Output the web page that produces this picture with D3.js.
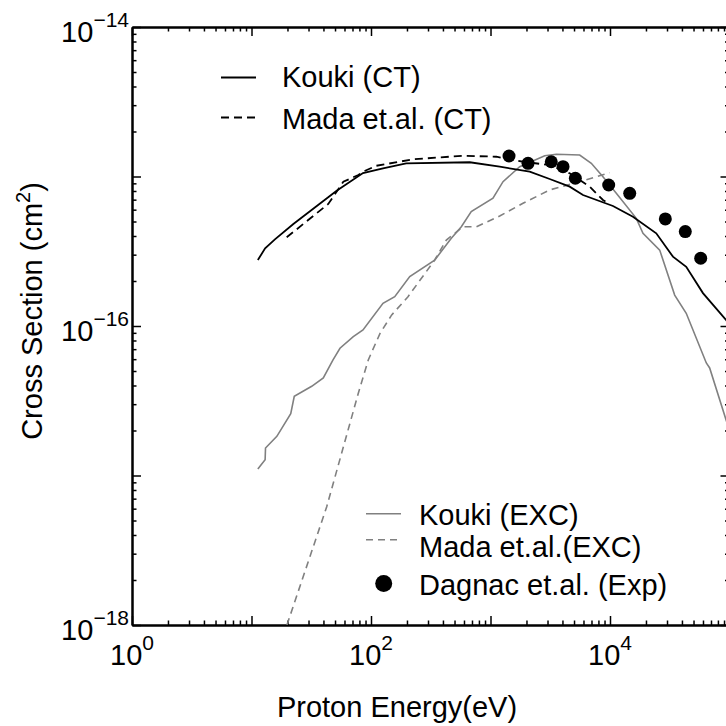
<!DOCTYPE html>
<html>
<head>
<meta charset="utf-8">
<script src="https://cdn.jsdelivr.net/npm/d3@7"></script>
<style>
  html, body { margin: 0; padding: 0; background: #fff; }
  svg { display: block; overflow: hidden; }
  text { font-family: "Liberation Sans", Arial, Helvetica, sans-serif; fill: #000; }
</style>
</head>
<body>
<div id="chart"></div>
<script>
// ---- Data (energy in eV, cross section in cm^2) ----
const koukiCT_E = [11.3, 13.0, 15.7, 22.4, 51.6, 85.7, 126, 197, 670, 1194, 2128, 3127, 4600, 5943, 10590, 15560, 24380, 33630, 43450, 59960, 93500, 100000];
const koukiCT_S = [2.76e-16, 3.31e-16, 3.80e-16, 4.81e-16, 8.03e-16, 1.054e-15, 1.135e-15, 1.225e-15, 1.245e-15, 1.163e-15, 1.077e-15, 9.62e-16, 8.55e-16, 7.52e-16, 6.35e-16, 5.38e-16, 4.17e-16, 2.91e-16, 2.49e-16, 1.66e-16, 1.10e-16, 1.016e-16];

const madaCT_E = [19.7, 43.9, 58.7, 78.3, 85.7, 111, 225, 589, 1119, 1871, 3128, 4600, 6760, 8730, 9930];
const madaCT_S = [3.92e-16, 6.55e-16, 9.23e-16, 1.023e-15, 1.076e-15, 1.18e-15, 1.303e-15, 1.377e-15, 1.356e-15, 1.255e-15, 1.193e-15, 1.05e-15, 8.55e-16, 6.97e-16, 6.55e-16];

const koukiEXC_E = [11.3, 13.0, 13.1, 16.3, 21.3, 22.8, 31.9, 39.9, 48.1, 55.0, 71.1, 85.7, 126, 158, 211, 341, 470, 570, 690, 1049, 1273, 1756, 2843, 3556, 5576, 6975, 8730, 11290, 16600, 18880, 26060, 34780, 43450, 63970, 68230, 93500, 100000];
const koukiEXC_S = [1.104e-17, 1.276e-17, 1.528e-17, 1.828e-17, 2.59e-17, 3.39e-17, 3.95e-17, 4.49e-17, 5.93e-17, 7.10e-17, 8.49e-17, 9.40e-17, 1.419e-16, 1.57e-16, 2.14e-16, 2.76e-16, 3.86e-16, 4.61e-16, 5.82e-16, 7.15e-16, 9.23e-16, 1.163e-15, 1.378e-15, 1.408e-15, 1.393e-15, 1.225e-15, 9.97e-16, 7.72e-16, 5.25e-16, 4.17e-16, 3.22e-16, 1.61e-16, 1.216e-16, 5.66e-17, 5.24e-17, 2.36e-17, 1.99e-17];

const madaEXC_E = [19.8, 42.6, 78.3, 94.9, 119, 149, 204, 341, 427, 589, 761, 1194, 1871, 3128, 5576, 9930];
const madaEXC_S = [1.0e-18, 6.18e-18, 3.55e-17, 5.93e-17, 8.93e-17, 1.186e-16, 1.57e-16, 2.76e-16, 3.76e-16, 4.61e-16, 4.61e-16, 5.44e-16, 6.62e-16, 8.13e-16, 9.23e-16, 1.059e-15];

const dagnac_E = [1429, 2061, 3226, 4045, 5129, 9750, 14620, 29040, 42660, 57410];
const dagnac_S = [1.371e-15, 1.225e-15, 1.255e-15, 1.163e-15, 9.73e-16, 8.77e-16, 7.72e-16, 5.20e-16, 4.28e-16, 2.84e-16];

// Axis ticks
const xDomain = [1, 1e5];
const yDomain = [1e-18, 1e-14];
const xLabelTicks = [1, 100, 10000];
const xLabelExp = ["0", "2", "4"];
const yLabelTicks = [1e-14, 1e-16, 1e-18];
const yLabelExp = ["\u221214", "\u221216", "\u221218"];

const legendTop = ["Kouki (CT)", "Mada et.al. (CT)"];
const legendBottom = ["Kouki (EXC)", "Mada et.al.(EXC)", "Dagnac et.al. (Exp)"];

(function () {
// ---- Layout ----
const W = 726, H = 726;
const pL = 132, pR = 729.5, pT = 27, pB = 625;
const GREY = "#808080";

const svg = d3.select("#chart").append("svg").attr("width", W).attr("height", H);

const x = d3.scaleLog().domain(xDomain).range([pL, pR]);
const y = d3.scaleLog().domain(yDomain).range([pB, pT]);

function decadeTicks(domain) {
  const major = [], minor = [];
  const lo = Math.round(Math.log10(domain[0])), hi = Math.round(Math.log10(domain[1]));
  for (let e = lo; e <= hi; e++) {
    major.push(Math.pow(10, e));
    if (e < hi) for (let k = 2; k <= 9; k++) minor.push(k * Math.pow(10, e));
  }
  return { major, minor };
}
const xt = decadeTicks(xDomain), yt = decadeTicks(yDomain);

svg.append("defs").append("clipPath").attr("id", "plotclip")
  .append("rect").attr("x", pL).attr("y", pT).attr("width", pR - pL).attr("height", pB - pT);

// ---- Axes (ticks inward) ----
function styleAxis(g) {
  g.selectAll("path.domain").attr("stroke", "#000").attr("stroke-width", 2);
  g.selectAll(".tick line").attr("stroke", "#000").attr("stroke-width", 1.5);
  g.selectAll(".tick text").remove();
}
const axes = [
  [d3.axisBottom, `translate(0,${pB})`, x],
  [d3.axisTop, `translate(0,${pT})`, x],
  [d3.axisLeft, `translate(${pL},0)`, y],
  [d3.axisRight, `translate(${pR},0)`, y]
];
axes.forEach(([fn, tr, sc]) => {
  const t = sc === x ? xt : yt;
  svg.append("g").attr("transform", tr)
    .call(fn(sc).tickValues(t.minor).tickSize(-4.5).tickSizeOuter(0).tickFormat(""))
    .call(styleAxis);
  svg.append("g").attr("transform", tr)
    .call(fn(sc).tickValues(t.major).tickSize(-9).tickSizeOuter(0).tickFormat(""))
    .call(styleAxis);
});

// Tick labels
xLabelTicks.forEach((v, i) => {
  const t = svg.append("text").attr("x", x(v)).attr("y", pB + 40)
    .attr("text-anchor", "middle").style("font-size", "29px");
  t.append("tspan").text("10");
  t.append("tspan").attr("dy", -15).style("font-size", "21px").text(xLabelExp[i]);
});
yLabelTicks.forEach((v, i) => {
  const t = svg.append("text").attr("x", pL - 3).attr("y", y(v) + 15)
    .attr("text-anchor", "end").style("font-size", "29px");
  t.append("tspan").text("10");
  t.append("tspan").attr("dy", -15).style("font-size", "21px").text(yLabelExp[i]);
});

// Axis titles
svg.append("text").attr("x", 397).attr("y", 717).attr("text-anchor", "middle")
  .style("font-size", "29px").text("Proton Energy(eV)");
const yt2 = svg.append("text").attr("transform", "translate(42,311) rotate(-90)")
  .attr("text-anchor", "middle").style("font-size", "29px");
yt2.append("tspan").text("Cross Section (cm");
yt2.append("tspan").attr("dy", -12).style("font-size", "20px").text("2");
yt2.append("tspan").attr("dy", 12).text(")");

// ---- Lines ----
const plot = svg.append("g").attr("clip-path", "url(#plotclip)");
const line = d3.line().x(d => x(d[0])).y(d => y(d[1]));
function zip(a, b) { return a.map((v, i) => [v, b[i]]); }

const series = [
  { E: koukiEXC_E, S: koukiEXC_S, color: GREY, width: 1.6, dash: null },
  { E: madaEXC_E, S: madaEXC_S, color: GREY, width: 1.6, dash: "7,5" },
  { E: koukiCT_E, S: koukiCT_S, color: "#000", width: 1.8, dash: null },
  { E: madaCT_E, S: madaCT_S, color: "#000", width: 1.8, dash: "8,5" }
];
series.forEach(s => {
  plot.append("path").datum(zip(s.E, s.S))
    .attr("d", line).attr("fill", "none")
    .attr("stroke", s.color).attr("stroke-width", s.width)
    .attr("stroke-dasharray", s.dash);
});

plot.selectAll("circle.dag").data(zip(dagnac_E, dagnac_S)).enter()
  .append("circle").attr("class", "dag")
  .attr("cx", d => x(d[0])).attr("cy", d => y(d[1])).attr("r", 6.5).attr("fill", "#000");

// ---- Legends ----
const lg1 = [
  { y: 77.5, ty: 86.5, color: "#000", dash: null, w: 1.8 },
  { y: 117.5, ty: 129, color: "#000", dash: "8,5", w: 1.8 }
];
lg1.forEach((d, i) => {
  svg.append("line").attr("x1", 221).attr("x2", 256).attr("y1", d.y).attr("y2", d.y)
    .attr("stroke", d.color).attr("stroke-width", d.w).attr("stroke-dasharray", d.dash);
  svg.append("text").attr("x", 282).attr("y", d.ty).style("font-size", "29px").text(legendTop[i]);
});
const lg2 = [
  { y: 513.7, ty: 524.5, type: "line", dash: null },
  { y: 539.7, ty: 557, type: "line", dash: "7,5" },
  { y: 583.5, ty: 594.5, type: "dot" }
];
lg2.forEach((d, i) => {
  if (d.type === "line") {
    svg.append("line").attr("x1", 366).attr("x2", 401).attr("y1", d.y).attr("y2", d.y)
      .attr("stroke", GREY).attr("stroke-width", 1.6).attr("stroke-dasharray", d.dash);
  } else {
    svg.append("circle").attr("cx", 383.7).attr("cy", d.y).attr("r", 8.5).attr("fill", "#000");
  }
  svg.append("text").attr("x", 419).attr("y", d.ty).style("font-size", "29px").text(legendBottom[i]);
});
})();
</script>
</body>
</html>
